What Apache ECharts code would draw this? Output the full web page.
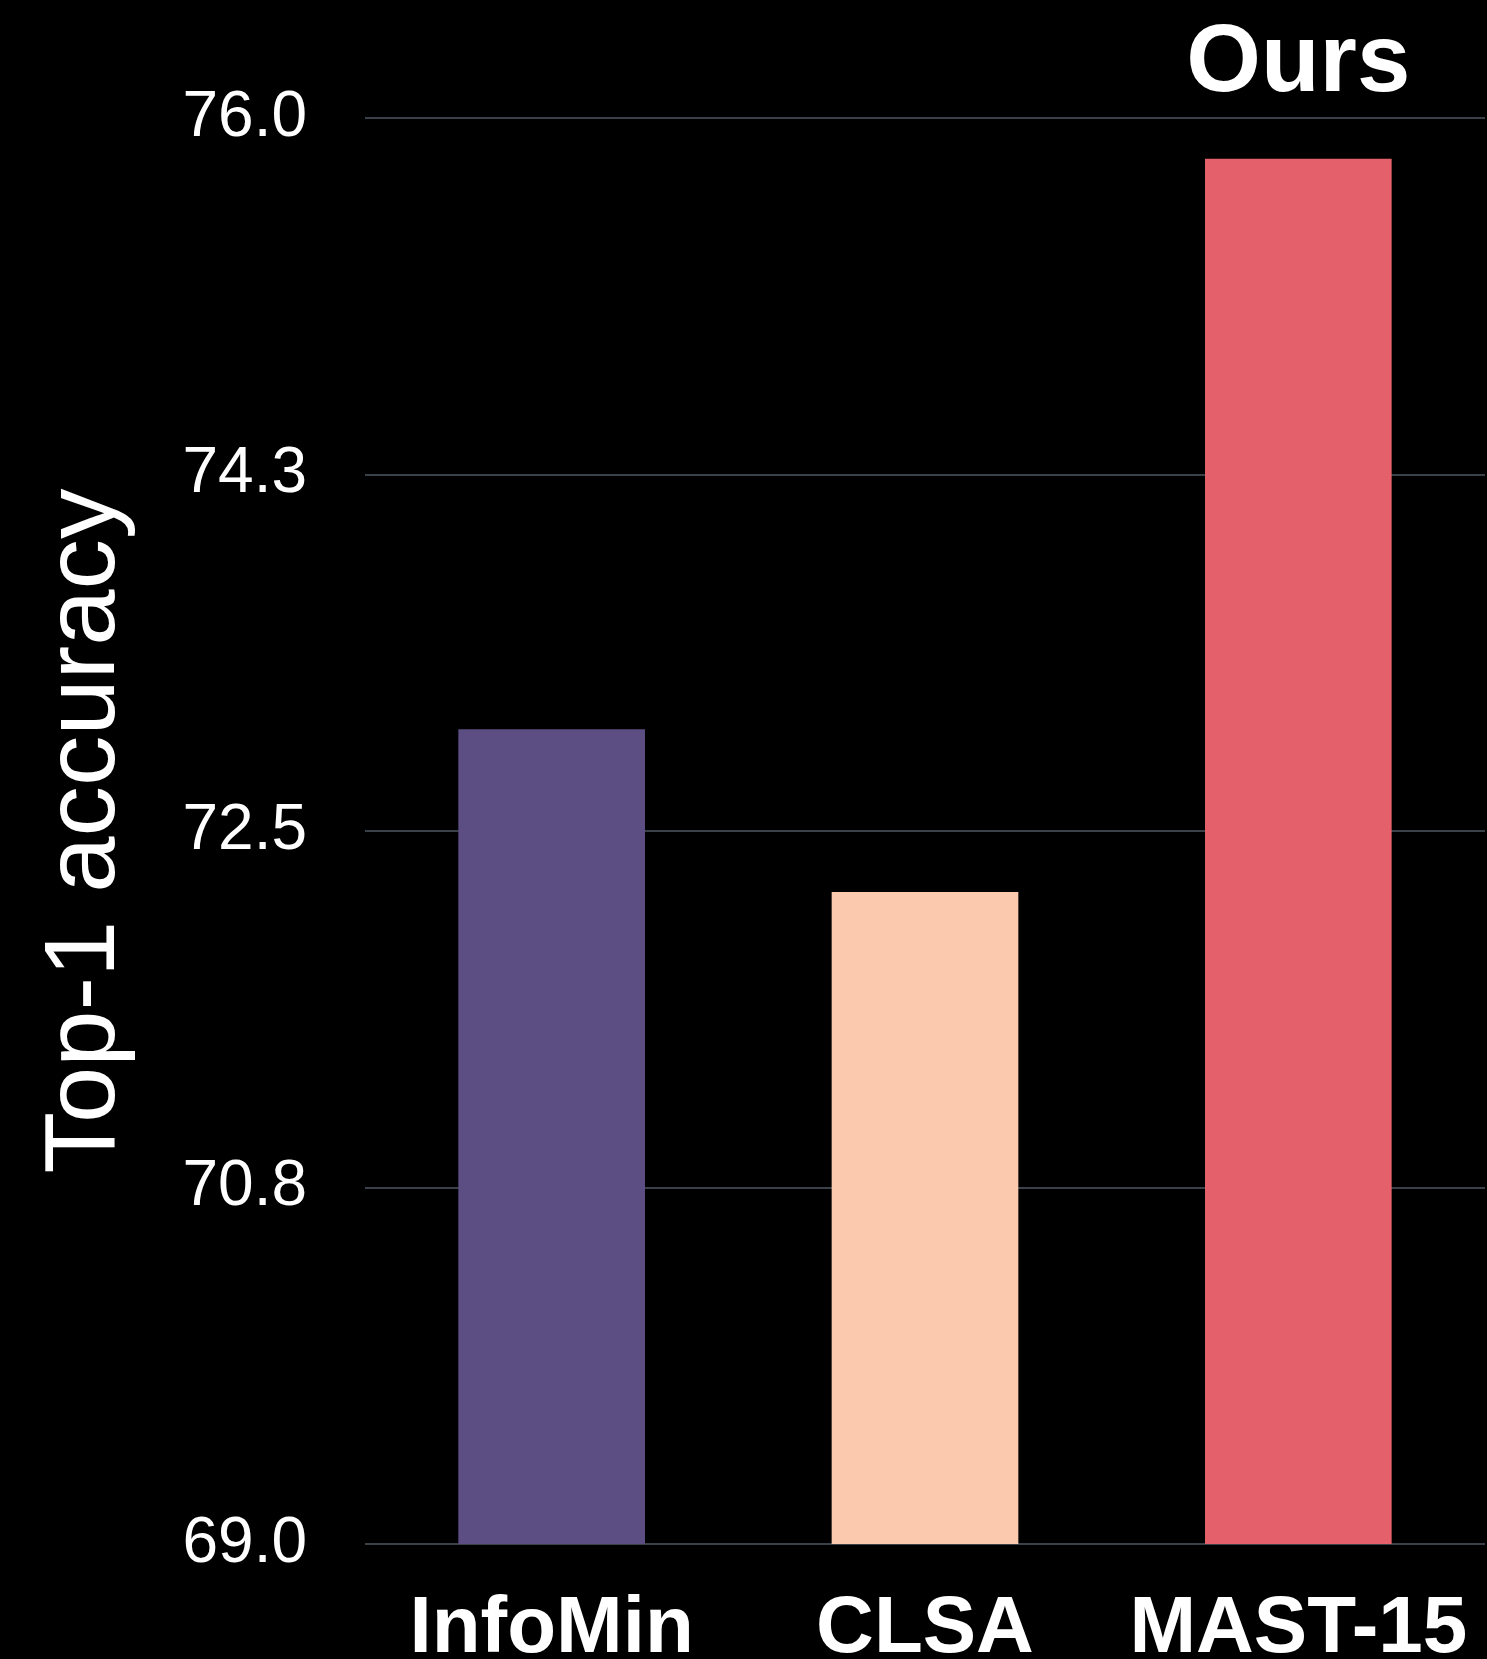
<!DOCTYPE html>
<html>
<head>
<meta charset="utf-8">
<script src="https://cdn.jsdelivr.net/npm/echarts@6/dist/echarts.min.js"></script>
<style>
html,body{margin:0;padding:0;background:#000;}
#chart{width:1487px;height:1659px;}
</style>
</head>
<body>
<div id="chart"></div>
<script>
const categories = ['InfoMin', 'CLSA', 'MAST-15'];
const accuracy = [73.0, 72.2, 75.8];
const barColors = ['#5c4d82', '#fbcaae', '#e4606b'];
const yTickValues = [69, 70.75, 72.5, 74.25, 76];
const yTickLabels = ['69.0', '70.8', '72.5', '74.3', '76.0'];
const highlightText = 'Ours';
const highlightIndex = 2;
const yAxisTitle = 'Top-1 accuracy';

const FONT = '"Liberation Sans", Arial, sans-serif';
const chart = echarts.init(document.getElementById('chart'), null, {renderer: 'canvas'});

const seriesData = accuracy.map((v, i) => {
  const item = {value: v, itemStyle: {color: barColors[i]}};
  if (i === highlightIndex) {
    item.label = {
      show: true, position: 'top', distance: 46, formatter: highlightText,
      color: '#fff', fontSize: 96, fontWeight: 'bold', fontFamily: FONT
    };
  }
  return item;
});

chart.setOption({
  backgroundColor: '#000',
  animation: false,
  grid: {left: 365, right: 2, top: 118, bottom: 115, containLabel: false, outerBoundsMode: 'none'},
  xAxis: {
    type: 'category',
    data: categories,
    axisLine: {show: false},
    axisTick: {show: false},
    axisLabel: {
      interval: 0, hideOverlap: false,
      color: '#fff', fontSize: 80, fontWeight: 'bold', fontFamily: FONT, margin: 46
    }
  },
  yAxis: {
    type: 'value',
    min: 69, max: 76,
    name: yAxisTitle,
    nameLocation: 'middle',
    nameGap: 228,
    nameTextStyle: {color: '#fff', fontSize: 101, fontFamily: FONT},
    axisLine: {show: false},
    axisTick: {show: false, customValues: yTickValues},
    axisLabel: {
      customValues: yTickValues,
      color: '#fff', fontSize: 64, fontFamily: FONT, margin: 58,
      formatter: (v) => {
        const idx = yTickValues.findIndex(t => Math.abs(t - v) < 1e-6);
        return idx >= 0 ? yTickLabels[idx] : '';
      }
    },
    splitLine: {show: true, lineStyle: {color: '#4e5761', width: 1.5}}
  },
  series: [{
    type: 'bar',
    data: seriesData,
    barWidth: '50%',
    z: 3
  }]
});
</script>
</body>
</html>
